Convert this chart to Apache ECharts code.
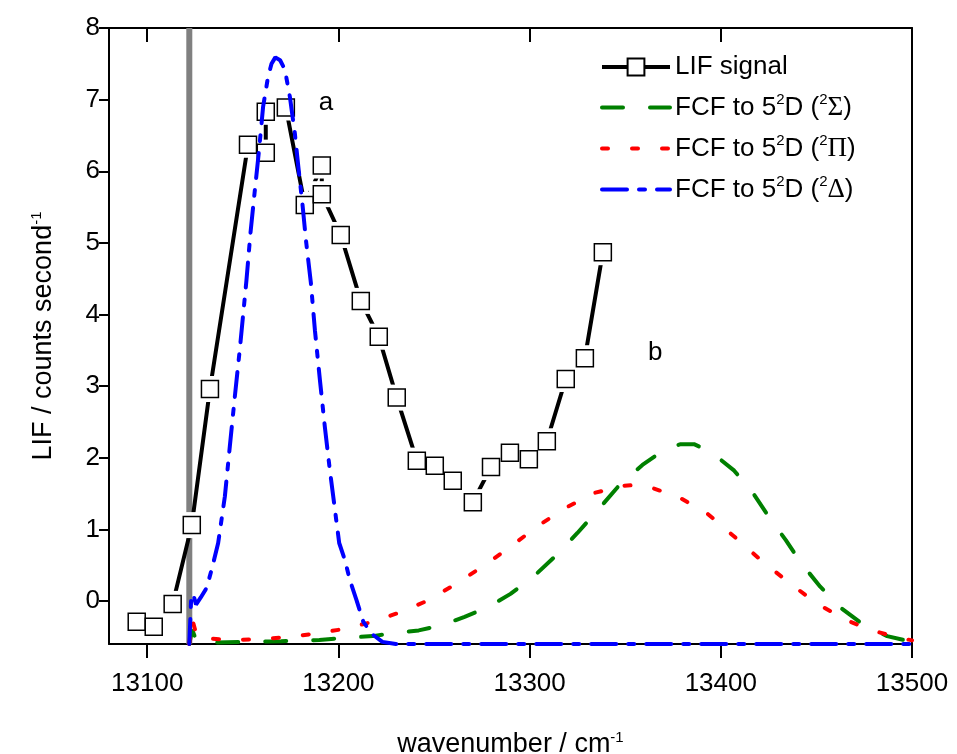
<!DOCTYPE html>
<html><head><meta charset="utf-8">
<script src="https://cdn.jsdelivr.net/npm/echarts@6/dist/echarts.min.js"></script>
<style>html,body{margin:0;padding:0;background:#fff}#c{width:957px;height:754px}</style>
</head><body><div id="c"></div>
<script>
// ---- data ----
const xTicks = [13100, 13200, 13300, 13400, 13500];
const yTicks = [0, 1, 2, 3, 4, 5, 6, 7, 8];

const lifX = [13094.5, 13103.4, 13113.3, 13123.3, 13132.8, 13152.7, 13162, 13162, 13172.5, 13182.4, 13191.3, 13191.3, 13201.2, 13211.7, 13221.1, 13230.5, 13241, 13250.4, 13259.8, 13270.3, 13279.8, 13289.7, 13299.6, 13309, 13318.9, 13328.9, 13338.3];
const lifY = [-0.29, -0.36, -0.04, 1.06, 2.96, 6.37, 6.26, 6.83, 6.89, 5.53, 6.08, 5.68, 5.11, 4.19, 3.69, 2.84, 1.96, 1.89, 1.68, 1.38, 1.87, 2.07, 1.98, 2.23, 3.10, 3.39, 4.87];

const sigmaX = [13122, 13123.5, 13126, 13135, 13150, 13170, 13190, 13205, 13218, 13228, 13242, 13254, 13266, 13278, 13290, 13302, 13314, 13325, 13336, 13347, 13359, 13371, 13379, 13386, 13395, 13407, 13417, 13425, 13434, 13442, 13452, 13463, 13475, 13487, 13500];
const sigmaY = [-0.6, -0.40, -0.57, -0.58, -0.57, -0.56, -0.545, -0.51, -0.49, -0.45, -0.41, -0.34, -0.22, -0.09, 0.10, 0.34, 0.64, 0.95, 1.28, 1.62, 1.90, 2.12, 2.19, 2.19, 2.08, 1.82, 1.50, 1.18, 0.85, 0.53, 0.20, -0.10, -0.34, -0.49, -0.57];

const piX = [13122, 13123.5, 13126, 13130, 13145, 13160, 13175, 13189, 13203, 13218, 13232, 13247, 13261.5, 13276, 13291, 13305, 13319.5, 13334, 13349, 13356, 13363, 13378, 13393, 13407, 13421, 13436, 13450, 13465, 13479, 13493, 13500];
const piY = [-0.6, -0.25, -0.5, -0.52, -0.545, -0.53, -0.50, -0.45, -0.39, -0.29, -0.16, 0.01, 0.24, 0.49, 0.78, 1.06, 1.31, 1.51, 1.61, 1.62, 1.59, 1.45, 1.22, 0.90, 0.57, 0.25, -0.03, -0.26, -0.41, -0.51, -0.55];

const deltaX = [13122, 13123, 13124, 13125.5, 13128, 13131, 13133.6, 13137.1, 13140.6, 13143.2, 13145.8, 13148.4, 13151.9, 13154, 13156.3, 13158.5, 13160.6, 13163.2, 13165, 13167, 13169.5, 13172, 13174.6, 13177.2, 13179, 13181.3, 13183, 13185.6, 13187.7, 13190.3, 13192.9, 13195.5, 13198.2, 13200.4, 13203.4, 13206, 13209.5, 13213, 13218, 13223, 13230, 13500];
const deltaY = [-0.6, 0.05, 0.1, -0.05, 0.05, 0.18, 0.43, 0.81, 1.46, 2.16, 2.85, 3.51, 4.48, 5.14, 5.74, 6.30, 6.90, 7.32, 7.50, 7.59, 7.55, 7.42, 7.04, 6.53, 6.07, 5.51, 5.04, 4.44, 3.78, 3.09, 2.43, 1.83, 1.27, 0.81, 0.57, 0.29, 0.01, -0.29, -0.47, -0.57, -0.6, -0.6];

const markerX = 13122;          // grey vertical reference line
const noteText = ['a', 'b'];
const noteX = [13193.5, 13365.7];
const noteY = [6.96, 3.46];

const seriesNames = ['LIF signal', 'FCF to 5\u00B2D (\u00B2\u03A3)', 'FCF to 5\u00B2D (\u00B2\u03A0)', 'FCF to 5\u00B2D (\u00B2\u0394)'];
const greek = ['', '\u03A3', '\u03A0', '\u0394'];

// ---- chart ----
const FONT = 'Liberation Sans';
const zip = (xs, ys) => xs.map((x, i) => [x, ys[i]]);
const rich = {
  n: {fontFamily: FONT, fontSize: 26, color: '#000', lineHeight: 30},
  s: {fontFamily: FONT, fontSize: 15, color: '#000', lineHeight: 16, verticalAlign: 'top'},
  g: {fontFamily: 'Liberation Serif', fontSize: 27, color: '#000', lineHeight: 30}
};
const nameRich = {
  n: {fontFamily: FONT, fontSize: 27, color: '#000', lineHeight: 30},
  s: {fontFamily: FONT, fontSize: 15, color: '#000', lineHeight: 16, verticalAlign: 'top'}
};
const XMIN = 13080, XMAX = 13500, YMIN = -0.6, YMAX = 8;
const axisLine = {show: true, onZero: false, lineStyle: {color: '#000', width: 2}};
const plain = v => String(v);

const chart = echarts.init(document.getElementById('c'), null, {renderer: 'canvas'});
chart.setOption({
  animation: false,
  backgroundColor: '#fff',
  grid: {left: 109, right: 45, top: 28, bottom: 110, containLabel: false, outerBoundsMode: 'none'},
  legend: {
    data: seriesNames,
    orient: 'vertical', left: 600, top: 54,
    itemWidth: 68, itemHeight: 21, itemGap: 12.5, padding: 0,
    selectedMode: false,
    lineStyle: {width: 4},
    textStyle: {fontFamily: FONT, fontSize: 26, color: '#000', rich: rich},
    formatter: function (name) {
      const i = seriesNames.indexOf(name);
      if (i === 0) return '{n|' + name + '}';
      return '{n|FCF to 5}{s|2}{n|D (}{s|2}{g|' + greek[i] + '}{n|)}';
    }
  },
  xAxis: [{
    type: 'value', min: XMIN, max: XMAX, position: 'bottom',
    axisLine: axisLine,
    axisTick: {show: true, inside: false, length: 14, customValues: xTicks, lineStyle: {color: '#000', width: 2}},
    axisLabel: {show: true, customValues: xTicks, formatter: plain, fontFamily: FONT, fontSize: 26, color: '#000', margin: 27},
    splitLine: {show: false},
    name: '{n|wavenumber / cm}{s|-1}', nameLocation: 'middle', nameGap: 86,
    nameTextStyle: {fontFamily: FONT, fontSize: 27, color: '#000', rich: nameRich}
  }, {
    type: 'value', min: XMIN, max: XMAX, position: 'top',
    axisLine: axisLine,
    axisTick: {show: true, inside: true, length: 14, customValues: xTicks, lineStyle: {color: '#000', width: 2}},
    axisLabel: {show: false}, splitLine: {show: false}
  }],
  yAxis: [{
    type: 'value', min: YMIN, max: YMAX, position: 'left',
    axisLine: axisLine,
    axisTick: {show: true, inside: false, length: 10, customValues: yTicks, lineStyle: {color: '#000', width: 2}},
    axisLabel: {show: true, customValues: yTicks, formatter: plain, fontFamily: FONT, fontSize: 26, color: '#000', margin: 9},
    splitLine: {show: false},
    name: '{n|LIF / counts second}{s|-1}', nameLocation: 'middle', nameGap: 50, nameRotate: 90,
    nameTextStyle: {fontFamily: FONT, fontSize: 27, color: '#000', rich: nameRich}
  }, {
    type: 'value', min: YMIN, max: YMAX, position: 'right',
    axisLine: axisLine, axisTick: {show: false}, axisLabel: {show: false}, splitLine: {show: false}
  }],
  series: [
    {
      name: 'marker', type: 'line', silent: true, symbol: 'none', z: 1,
      data: [[markerX, YMIN], [markerX, YMAX]],
      lineStyle: {color: '#808080', width: 6}
    },
    {
      name: seriesNames[0], type: 'line', data: zip(lifX, lifY), z: 2,
      symbol: 'rect', symbolSize: 17, showSymbol: false,
      itemStyle: {color: '#fff', borderColor: '#000', borderWidth: 1.5},
      lineStyle: {color: '#000', width: 4}
    },
    {
      name: 'halo', type: 'scatter', silent: true, data: zip(lifX, lifY), z: 3,
      symbol: 'rect', symbolSize: 26, itemStyle: {color: '#fff', opacity: 1}
    },
    {
      name: 'squares', type: 'scatter', silent: true, data: zip(lifX, lifY), z: 4,
      symbol: 'rect', symbolSize: 17,
      itemStyle: {color: '#fff', borderColor: '#000', borderWidth: 1.5, opacity: 1}
    },
    {
      name: seriesNames[1], type: 'line', data: zip(sigmaX, sigmaY), symbol: 'none', clip: false, z: 5,
      itemStyle: {color: 'rgba(0,0,0,0)'},
      lineStyle: {color: '#008000', width: 4, type: [21, 27], cap: 'round'}
    },
    {
      name: seriesNames[2], type: 'line', data: zip(piX, piY), symbol: 'none', clip: false, z: 5,
      itemStyle: {color: 'rgba(0,0,0,0)'},
      lineStyle: {color: '#ff0000', width: 4, type: [6, 24], cap: 'round'}
    },
    {
      name: seriesNames[3], type: 'line', data: zip(deltaX, deltaY), symbol: 'none', clip: false, z: 5,
      itemStyle: {color: 'rgba(0,0,0,0)'},
      lineStyle: {color: '#0000ff', width: 4, type: [25, 12, 6, 12], cap: 'round'}
    },
    {
      name: 'notes', type: 'scatter', silent: true, z: 6,
      data: noteText.map((t, i) => ({name: t, value: [noteX[i], noteY[i]]})),
      symbolSize: 1, itemStyle: {color: 'rgba(0,0,0,0)'},
      label: {show: true, position: 'inside', formatter: '{b}', fontFamily: FONT, fontSize: 26, color: '#000', opacity: 1, textBorderWidth: 0}
    }
  ]
});
</script></body></html>
